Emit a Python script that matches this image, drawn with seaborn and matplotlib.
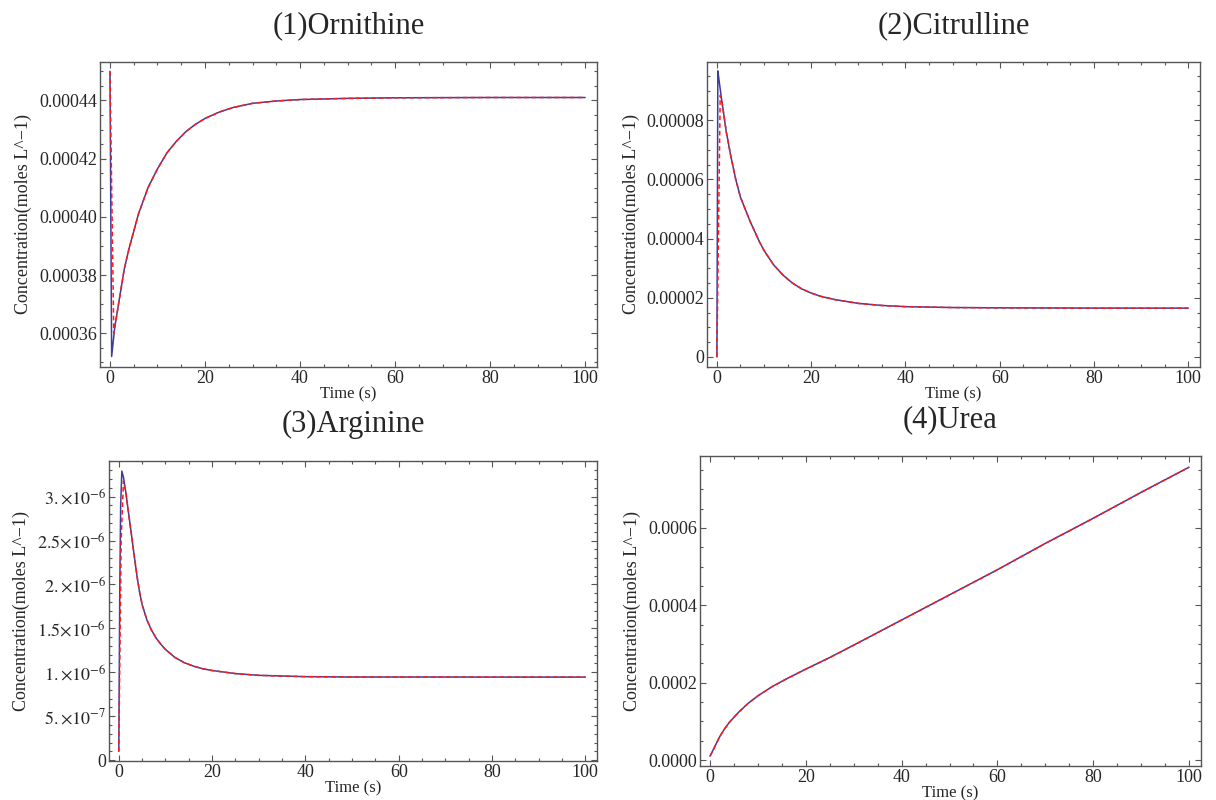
import matplotlib
matplotlib.use("Agg")
import matplotlib.pyplot as plt
import pandas as pd
import seaborn as sns
from matplotlib.ticker import FixedLocator, FixedFormatter, AutoMinorLocator

# ---------------- data ----------------
titles = ["(1)Ornithine", "(2)Citrulline", "(3)Arginine", "(4)Urea"]

orn_t_blue = [0, 0.35, 1, 2, 3, 4, 5, 6, 7, 8, 10, 12, 14, 16, 18, 20, 23, 26, 30, 35, 40, 50, 60, 80, 100]
orn_blue = [0.000450, 0.000352, 0.000362, 0.000372, 0.000382, 0.000389, 0.000395, 0.000401, 0.0004055,
            0.000410, 0.0004165, 0.000422, 0.000426, 0.0004293, 0.0004318, 0.0004338, 0.000436, 0.0004376,
            0.000439, 0.0004398, 0.0004403, 0.0004407, 0.0004409, 0.000441, 0.000441]
orn_t_red = [0, 0.8, 2, 3, 4, 5, 6, 7, 8, 10, 12, 14, 16, 18, 20, 23, 26, 30, 35, 40, 50, 60, 80, 100]
orn_red = [0.000450, 0.000360, 0.000372, 0.000382, 0.000389, 0.000395, 0.000401, 0.0004055,
           0.000410, 0.0004165, 0.000422, 0.000426, 0.0004293, 0.0004318, 0.0004338, 0.000436, 0.0004376,
           0.000439, 0.0004398, 0.0004403, 0.0004407, 0.0004409, 0.000441, 0.000441]

cit_t_blue = [0, 0.2, 0.5, 1, 1.5, 2, 3, 4, 5, 6, 7, 8, 9, 10, 12, 14, 16, 18, 20, 22, 25, 30, 35, 40, 50, 60, 80, 100]
cit_blue = [0.0, 9.67e-5, 9.3e-5, 8.7e-5, 8.15e-5, 7.6e-5, 6.75e-5, 6.0e-5, 5.4e-5, 5.0e-5, 4.6e-5, 4.25e-5,
            3.9e-5, 3.6e-5, 3.12e-5, 2.77e-5, 2.5e-5, 2.3e-5, 2.16e-5, 2.05e-5, 1.94e-5, 1.81e-5, 1.74e-5,
            1.70e-5, 1.67e-5, 1.66e-5, 1.65e-5, 1.65e-5]
cit_t_red = [0, 0.7, 1, 1.5, 2, 3, 4, 5, 6, 7, 8, 9, 10, 12, 14, 16, 18, 20, 22, 25, 30, 35, 40, 50, 60, 80, 100]
cit_red = [0.0, 8.84e-5, 8.7e-5, 8.15e-5, 7.6e-5, 6.75e-5, 6.0e-5, 5.4e-5, 5.0e-5, 4.6e-5, 4.25e-5,
           3.9e-5, 3.6e-5, 3.12e-5, 2.77e-5, 2.5e-5, 2.3e-5, 2.16e-5, 2.05e-5, 1.94e-5, 1.81e-5, 1.74e-5,
           1.70e-5, 1.67e-5, 1.66e-5, 1.65e-5, 1.65e-5]

arg_t_blue = [0, 0.2, 0.4, 0.65, 1, 1.5, 2, 2.5, 3, 3.5, 4, 4.5, 5, 6, 7, 8, 9, 10, 12, 14, 16, 18, 20,
              25, 30, 40, 50, 100]
arg_blue = [1.0e-7, 1.9e-6, 2.9e-6, 3.29e-6, 3.22e-6, 3.05e-6, 2.85e-6, 2.65e-6, 2.45e-6, 2.25e-6, 2.06e-6,
            1.9e-6, 1.77e-6, 1.6e-6, 1.48e-6, 1.39e-6, 1.32e-6, 1.26e-6, 1.17e-6, 1.11e-6, 1.07e-6, 1.04e-6,
            1.02e-6, 0.985e-6, 0.965e-6, 0.95e-6, 0.946e-6, 0.945e-6]
arg_t_red = [0, 0.5, 1.0, 1.5, 2, 2.5, 3, 3.5, 4, 4.5, 5, 6, 7, 8, 9, 10, 12, 14, 16, 18, 20,
             25, 30, 40, 50, 100]
arg_red = [1.0e-7, 2.5e-6, 3.18e-6, 3.05e-6, 2.85e-6, 2.65e-6, 2.45e-6, 2.25e-6, 2.06e-6,
           1.9e-6, 1.77e-6, 1.6e-6, 1.48e-6, 1.39e-6, 1.32e-6, 1.26e-6, 1.17e-6, 1.11e-6, 1.07e-6, 1.04e-6,
           1.02e-6, 0.985e-6, 0.965e-6, 0.95e-6, 0.946e-6, 0.945e-6]

urea_t = [0, 1, 2, 3, 4, 6, 8, 10, 13, 16, 20, 25, 30, 40, 50, 60, 70, 80, 90, 100]
urea_blue = [1.0e-5, 3.5e-5, 6.0e-5, 8.0e-5, 9.7e-5, 1.24e-4, 1.47e-4, 1.66e-4, 1.90e-4, 2.10e-4,
             2.35e-4, 2.65e-4, 2.97e-4, 3.62e-4, 4.27e-4, 4.92e-4, 5.60e-4, 6.25e-4, 6.92e-4, 7.57e-4]
urea_red = list(urea_blue)

x_ticks = [0, 20, 40, 60, 80, 100]
x_ticklabels = ["0", "20", "40", "60", "80", "100"]

orn_yticks = [0.00036, 0.00038, 0.00040, 0.00042, 0.00044]
orn_yticklabels = ["0.00036", "0.00038", "0.00040", "0.00042", "0.00044"]
cit_yticks = [0, 0.00002, 0.00004, 0.00006, 0.00008]
cit_yticklabels = ["0", "0.00002", "0.00004", "0.00006", "0.00008"]
arg_yticks = [0, 5e-7, 1e-6, 1.5e-6, 2e-6, 2.5e-6, 3e-6]
arg_yticklabels = ["0", r"$5.{\times}10^{-7}$", r"$1.{\times}10^{-6}$", r"$1.5{\times}10^{-6}$",
                   r"$2.{\times}10^{-6}$", r"$2.5{\times}10^{-6}$", r"$3.{\times}10^{-6}$"]
urea_yticks = [0, 0.0002, 0.0004, 0.0006]
urea_yticklabels = ["0.0000", "0.0002", "0.0004", "0.0006"]

# ---------------- style ----------------
sns.set_style("ticks")
plt.rcParams['font.family'] = ['Liberation Serif', 'DejaVu Serif']
plt.rcParams['mathtext.fontset'] = 'stix'

BLUE = "#3d3d9e"
RED = "#ff1a1a"
FRAME = "#555555"

fig = plt.figure(figsize=(12.16, 8.0), dpi=100)

panels = [
    dict(rect=[100/1216, 1-367/800, 497/1216, 305/800], tb=orn_t_blue, yb=orn_blue, tr=orn_t_red, yr=orn_red,
         ylim=(0.0003484, 0.0004532), yt=orn_yticks, ytl=orn_yticklabels),
    dict(rect=[707/1216, 1-367/800, 493/1216, 305/800], tb=cit_t_blue, yb=cit_blue, tr=cit_t_red, yr=cit_red,
         ylim=(-3.4e-6, 9.97e-5), yt=cit_yticks, ytl=cit_yticklabels),
    dict(rect=[109/1216, 1-761/800, 488/1216, 300/800], tb=arg_t_blue, yb=arg_blue, tr=arg_t_red, yr=arg_red,
         ylim=(-1e-8, 3.405e-6), yt=arg_yticks, ytl=arg_yticklabels),
    dict(rect=[700/1216, 1-766/800, 501/1216, 310/800], tb=urea_t, yb=urea_blue, tr=urea_t, yr=urea_red,
         ylim=(-1.55e-5, 7.86e-4), yt=urea_yticks, ytl=urea_yticklabels),
]

for i, p in enumerate(panels):
    ax = fig.add_axes(p["rect"])
    dfb = pd.DataFrame({"t": p["tb"], "c": p["yb"]})
    dfr = pd.DataFrame({"t": p["tr"], "c": p["yr"]})
    sns.lineplot(data=dfb, x="t", y="c", ax=ax, color=BLUE, lw=1.1, estimator=None, sort=False)
    sns.lineplot(data=dfr, x="t", y="c", ax=ax, color=RED, lw=1.1, estimator=None, sort=False,
                 linestyle=(0, (3, 2)))
    ax.set_xlim(-2.1, 102.5)
    ax.set_ylim(*p["ylim"])
    ax.xaxis.set_major_locator(FixedLocator(x_ticks))
    ax.xaxis.set_major_formatter(FixedFormatter(x_ticklabels))
    ax.yaxis.set_major_locator(FixedLocator(p["yt"]))
    ax.yaxis.set_major_formatter(FixedFormatter(p["ytl"]))
    ax.xaxis.set_minor_locator(AutoMinorLocator(4))
    ax.yaxis.set_minor_locator(AutoMinorLocator(4 if i != 2 else 5))
    ax.tick_params(which="both", direction="in", top=True, right=True, color=FRAME, width=0.8)
    ax.tick_params(which="major", length=4, labelsize=13, pad=2)
    ax.tick_params(which="minor", length=2)
    for s in ax.spines.values():
        s.set_color(FRAME)
        s.set_linewidth(1.0)
    ax.set_xlabel("Time (s)", fontsize=12, labelpad=0)
    ax.set_ylabel("Concentration(moles L^\u22121)", fontsize=13, labelpad=5)
    ax.set_title(titles[i], fontsize=22, pad=21)

fig.savefig("out.png", dpi=100)
